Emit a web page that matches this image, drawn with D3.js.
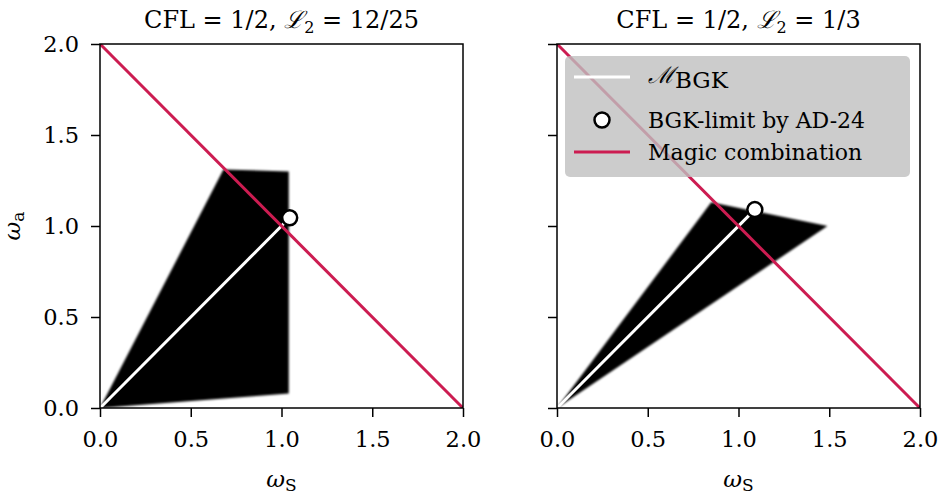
<!DOCTYPE html>
<html lang="en">
<head>
<meta charset="UTF-8">
<title>BGK stability regions</title>
<script src="https://cdn.jsdelivr.net/npm/d3@7"></script>
<style>
  body { margin: 0; background: #fff; }
  text { font-family: "DejaVu Serif", serif; fill: #000; }
</style>
</head>
<body>
<svg id="chart" width="941" height="495"></svg>
<script>
// stable region outlines (omega_s, omega_a)
const leftRegion = [[0, 0], [0.68, 1.31], [1.04, 1.30], [1.04, 0.08]];
const rightRegion = [[0, 0], [0.85, 1.13], [1.49, 1.0]];
// BGK limit by AD-24
const leftLimit = [1.045, 1.045];
const rightLimit = [1.09, 1.09];
// magic combination omega_s + omega_a = 2
const magicLine = [[0, 2], [2, 0]];
const ticks = [0, 0.5, 1.0, 1.5, 2.0];

const panels = [
  { left: 100, title: "12/25", region: leftRegion, limit: leftLimit, yLabels: true, legend: false },
  { left: 557, title: "1/3", region: rightRegion, limit: rightLimit, yLabels: false, legend: true }
];

const plotTop = 44, h = 364, w = 363;
const red = "#cc1c51";
const svg = d3.select("#chart");

const defs = svg.append("defs");
defs.append("filter").attr("id", "blur")
  .attr("x", "-10%").attr("y", "-10%").attr("width", "120%").attr("height", "120%")
  .append("feGaussianBlur").attr("stdDeviation", 1.2);

panels.forEach((p, i) => {
  const x = d3.scaleLinear().domain([0, 2]).range([0, w]);
  const y = d3.scaleLinear().domain([0, 2]).range([h, 0]);
  const g = svg.append("g").attr("transform", "translate(" + p.left + "," + plotTop + ")");

  defs.append("clipPath").attr("id", "clip" + i)
    .append("rect").attr("width", w).attr("height", h);

  const plot = g.append("g").attr("clip-path", "url(#clip" + i + ")");

  plot.append("path")
    .attr("d", d3.line().x(d => x(d[0])).y(d => y(d[1]))(p.region) + "Z")
    .attr("fill", "#000")
    .attr("filter", "url(#blur)");

  plot.append("line")
    .attr("x1", x(0)).attr("y1", y(0))
    .attr("x2", x(p.limit[0])).attr("y2", y(p.limit[1]))
    .attr("stroke", "#fff").attr("stroke-width", 3);

  plot.append("path")
    .attr("d", d3.line().x(d => x(d[0])).y(d => y(d[1]))(magicLine))
    .attr("stroke", red).attr("stroke-width", 3).attr("fill", "none");

  plot.append("circle")
    .attr("cx", x(p.limit[0])).attr("cy", y(p.limit[1])).attr("r", 7.5)
    .attr("fill", "#fff").attr("stroke", "#000").attr("stroke-width", 2.5);

  // axes
  const xa = g.append("g").attr("transform", "translate(0," + h + ")")
    .call(d3.axisBottom(x).tickValues(ticks).tickFormat(d3.format(".1f")).tickSize(9).tickPadding(14));
  const ya = g.append("g")
    .call(d3.axisLeft(y).tickValues(ticks).tickFormat(p.yLabels ? d3.format(".1f") : "").tickSize(9).tickPadding(12));
  [xa, ya].forEach(a => {
    a.select(".domain").remove();
    a.selectAll(".tick line").attr("stroke-width", 1.5);
    a.selectAll("text").style("font-size", "22.5px").style("font-family", "DejaVu Serif");
  });

  g.append("rect").attr("width", w).attr("height", h)
    .attr("fill", "none").attr("stroke", "#000").attr("stroke-width", 1.5);

  // title
  const t = g.append("text").attr("x", w / 2).attr("y", -16)
    .attr("text-anchor", "middle").style("font-size", "24px");
  t.append("tspan").text("CFL = 1/2, ");
  t.append("tspan").style("font-style", "italic").text("ℒ");
  t.append("tspan").attr("dy", 5).style("font-size", "16px").text("2");
  t.append("tspan").attr("dy", -5).text(" = " + p.title);

  // x label
  const xl = g.append("text").attr("x", w / 2).attr("y", h + 79)
    .attr("text-anchor", "middle").style("font-size", "23px");
  xl.append("tspan").style("font-style", "italic").text("ω");
  xl.append("tspan").attr("dy", 4).style("font-size", "17px").text("S");

  if (p.yLabels) {
    const yl = g.append("text")
      .attr("transform", "translate(-80," + (h / 2) + ") rotate(-90)")
      .attr("text-anchor", "middle").style("font-size", "23px");
    yl.append("tspan").style("font-style", "italic").text("ω");
    yl.append("tspan").attr("dy", 4).style("font-size", "17px").text("a");
  }

  if (p.legend) {
    const lg = g.append("g").attr("transform", "translate(8,12)");
    lg.append("rect").attr("width", 345).attr("height", 121).attr("rx", 5)
      .attr("fill", "#bfbfbf").attr("fill-opacity", 0.8);
    lg.append("line").attr("x1", 9).attr("x2", 65).attr("y1", 21).attr("y2", 21)
      .attr("stroke", "#fff").attr("stroke-width", 3);
    lg.append("circle").attr("cx", 37).attr("cy", 64).attr("r", 7.5)
      .attr("fill", "#fff").attr("stroke", "#000").attr("stroke-width", 2.5);
    lg.append("line").attr("x1", 9).attr("x2", 65).attr("y1", 96).attr("y2", 96)
      .attr("stroke", red).attr("stroke-width", 3);
    const l1 = lg.append("text").attr("x", 83).attr("y", 27).style("font-size", "23px");
    l1.append("tspan").style("font-style", "italic").text("ℳ");
    l1.append("tspan").attr("dy", 5).text("BGK");
    lg.append("text").attr("x", 83).attr("y", 72).style("font-size", "22px").text("BGK-limit by AD-24");
    lg.append("text").attr("x", 83).attr("y", 104).style("font-size", "22px").text("Magic combination");
  }
});
</script>
</body>
</html>
